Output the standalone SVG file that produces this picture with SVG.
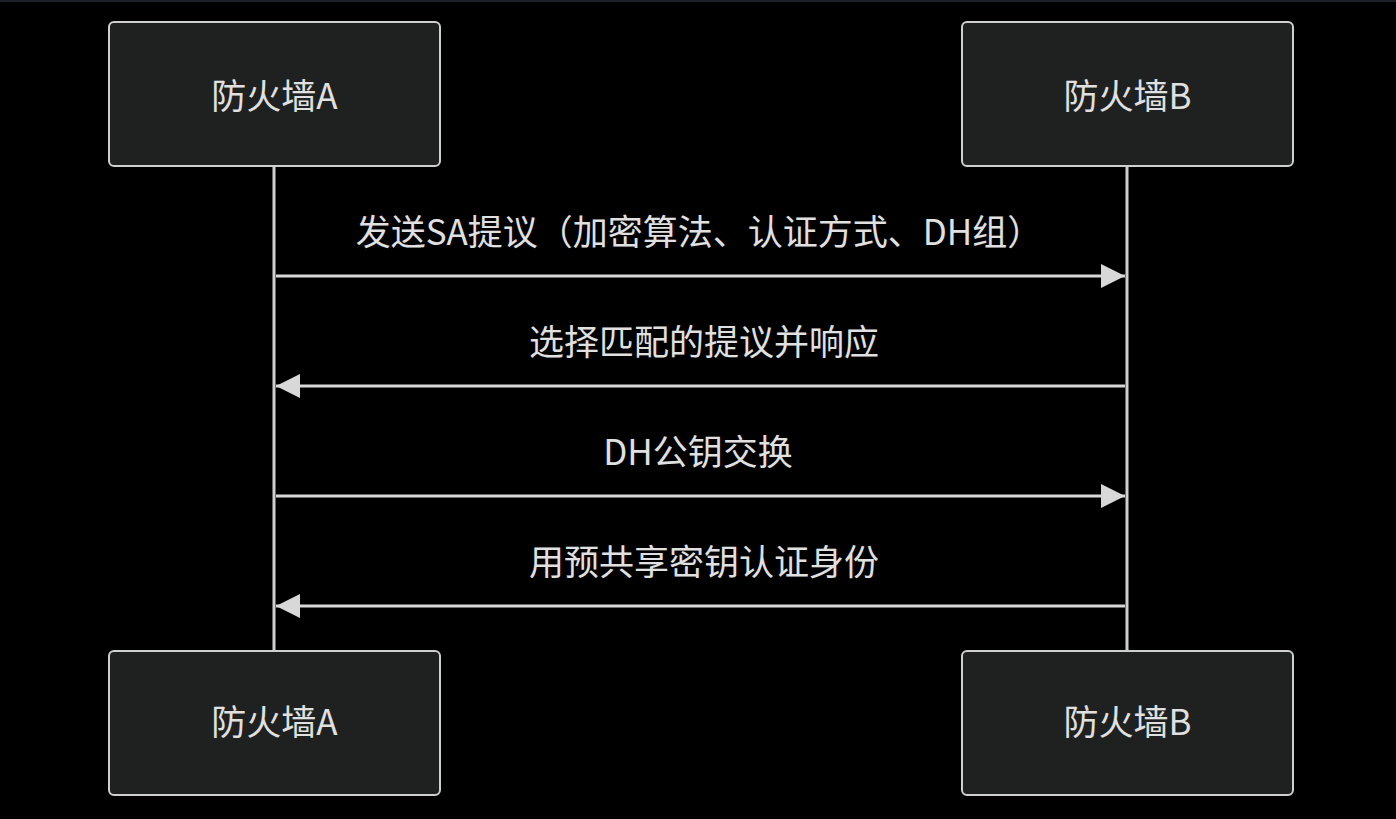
<svg xmlns="http://www.w3.org/2000/svg" width="1396" height="819" viewBox="0 0 1396 819">
<style>
.actor{fill:#1f2020;stroke:#cfcfcf;stroke-width:2}
.lbl{fill:#e0e0e0;font-family:"Noto Sans CJK SC","Noto Sans",sans-serif;font-size:35px;text-anchor:middle;dominant-baseline:central}
.life{stroke:#cfcfcf;stroke-width:3}
.msg{stroke:#d8d8d8;stroke-width:3;fill:none}
</style>
<defs>
<marker id="ah" markerWidth="24" markerHeight="24" viewBox="0 0 24 24" refX="24" refY="12" orient="auto" markerUnits="userSpaceOnUse">
<path d="M0,0 L24,12 L0,24 Z" fill="#d8d8d8"/>
</marker>
</defs>
<rect x="0" y="0" width="1396" height="819" fill="#000"/>
<rect x="0" y="0" width="1396" height="2" fill="#1c1e2a"/>
<g id="connectors">
<line class="life" x1="274" y1="166" x2="274" y2="651"/>
<line class="life" x1="1127" y1="166" x2="1127" y2="651"/>
<line class="msg" x1="276" y1="276" x2="1125" y2="276" marker-end="url(#ah)"/>
<line class="msg" x1="1125" y1="386" x2="276" y2="386" marker-end="url(#ah)"/>
<line class="msg" x1="276" y1="496" x2="1125" y2="496" marker-end="url(#ah)"/>
<line class="msg" x1="1125" y1="606" x2="276" y2="606" marker-end="url(#ah)"/>
<text class="lbl" x="699" y="229">发送SA提议（加密算法、认证方式、DH组）</text>
<text class="lbl" x="704" y="339">选择匹配的提议并响应</text>
<text class="lbl" x="698" y="449">DH公钥交换</text>
<text class="lbl" x="704" y="559">用预共享密钥认证身份</text>
</g>
<g id="actorA-top"><rect class="actor" x="109" y="22" width="331" height="144" rx="5"/><text class="lbl" x="274.5" y="93">防火墙A</text></g>
<g id="actorB-top"><rect class="actor" x="962" y="22" width="331" height="144" rx="5"/><text class="lbl" x="1127.5" y="93">防火墙B</text></g>
<g id="actorA-bottom"><rect class="actor" x="109" y="651" width="331" height="144" rx="5"/><text class="lbl" x="274.5" y="719">防火墙A</text></g>
<g id="actorB-bottom"><rect class="actor" x="962" y="651" width="331" height="144" rx="5"/><text class="lbl" x="1127.5" y="719">防火墙B</text></g>
</svg>
